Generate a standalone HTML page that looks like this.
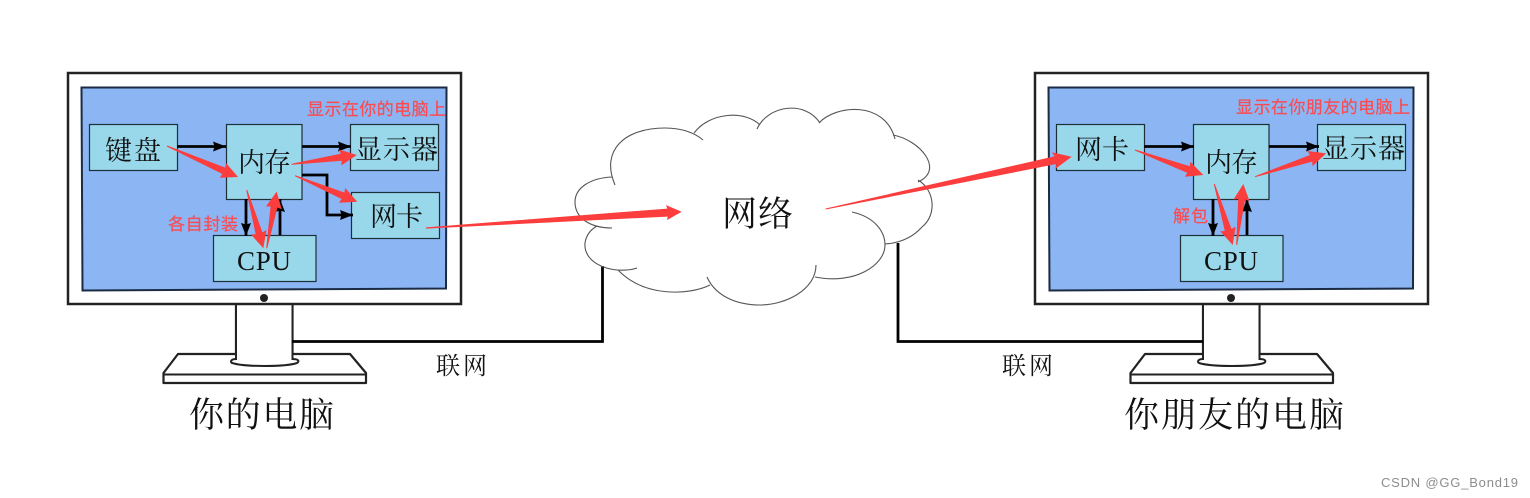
<!DOCTYPE html>
<html><head><meta charset="utf-8"><style>
html,body{margin:0;padding:0;background:#fff}
svg{display:block}
.z{font-family:"Liberation Serif","Noto Serif CJK SC",serif;fill:#111}
.r{font-family:"Liberation Sans","Noto Sans CJK SC",sans-serif;fill:#fb4b52;font-size:17px;stroke:#fb4b52;stroke-width:.2}
.box{fill:#99d8ea;stroke:#1d2f38;stroke-width:1.2}
.blk{fill:none;stroke:#000;stroke-width:2.8}
.c{fill:none;stroke:#555;stroke-width:1.1}
</style></head><body>
<svg width="1530" height="498" viewBox="0 0 1530 498" xmlns="http://www.w3.org/2000/svg">
<defs>
<g id="mon">
<path d="M236,304V360M292.500,304V360" fill="none" stroke="#222" stroke-width="2.2"/>
<path d="M236,354H178L163.500,373V383H366V373L350,354H292.500" fill="#fff" stroke="#222" stroke-width="2.200" stroke-linejoin="round"/>
<path d="M163.500,374.500H366" stroke="#222" stroke-width="2" fill="none"/>
<path d="M236,304V359C231,359 230,362 232,363C245,367 285,367 297,363C300,361 298,359 292.500,359V304Z" fill="#fff" stroke="#222" stroke-width="2"/>
<rect x="68" y="73" width="393" height="231" fill="#fff" stroke="#222" stroke-width="2.500"/>
<path d="M81.500,87.500H446.500L446,288.500L82.500,290.500Z" fill="#8bb6f3" stroke="#1b2b44" stroke-width="2"/>
<circle cx="264" cy="298" r="4" fill="#222"/>
</g>
<marker id="ah" markerUnits="userSpaceOnUse" markerWidth="15" markerHeight="12" refX="13" refY="6" orient="auto">
<path d="M0,1L13,6L0,11L1.500,6Z" fill="#000"/>
</marker>
</defs>

<use href="#mon"/>
<use href="#mon" x="967"/>

<!-- connection lines -->
<path d="M292,341.500H602.500V266" class="blk"/>
<path d="M898,243V341.500H1203" class="blk"/>

<!-- cloud -->
<path d="M615,185C600,150 625,128 665,128C682,128 695,133 703,140
M694,133C710,112 745,110 760,125
M757,129C768,105 805,100 820,123
M819,123C835,105 885,100 895,139
M893,135C920,140 945,170 918,182
M918,180C935,190 937,215 922,227C913,237 900,243 885,244
M852,212C875,217 885,232 885,245C885,265 855,285 815,277
M816,265C816,290 785,305 760,305C735,305 715,295 707,277
M710,285C690,295 645,298 618,270
M637,268C615,275 583,265 585,243C586,236 590,230 597,226
M612,228C590,228 575,218 575,202C575,188 590,178 612,177" class="c"/>
<text class="z" x="722" y="226" font-size="35" textLength="71" lengthAdjust="spacing">网络</text>

<!-- left boxes -->
<rect class="box" x="89.500" y="124.500" width="88" height="46"/>
<rect class="box" x="226.500" y="124.500" width="75.500" height="75"/>
<rect class="box" x="350.500" y="124.500" width="88" height="46"/>
<rect class="box" x="351.500" y="192.500" width="88" height="46"/>
<rect class="box" x="213.500" y="235.500" width="102.500" height="46"/>

<!-- right boxes -->
<rect class="box" x="1056.500" y="124.500" width="88" height="46"/>
<rect class="box" x="1193.500" y="124.500" width="75.500" height="75"/>
<rect class="box" x="1317.500" y="124.500" width="88" height="46"/>
<rect class="box" x="1180.500" y="235.500" width="102.500" height="46"/>

<!-- black arrows -->
<path class="blk" d="M177,146.500H226" marker-end="url(#ah)"/>
<path class="blk" d="M302,146.500H351" marker-end="url(#ah)"/>
<path class="blk" d="M302,175H327V215H353" marker-end="url(#ah)"/>
<path class="blk" d="M246,199V236" marker-end="url(#ah)"/>
<path class="blk" d="M280,235V199" marker-end="url(#ah)"/>
<path class="blk" d="M1144,146.500H1194" marker-end="url(#ah)"/>
<path class="blk" d="M1269,146.500H1319" marker-end="url(#ah)"/>
<path class="blk" d="M1213,199V236" marker-end="url(#ah)"/>
<path class="blk" d="M1247,235V199" marker-end="url(#ah)"/>

<!-- box labels -->
<g class="z" font-size="27">
<text x="105" y="160" textLength="56" lengthAdjust="spacing">键盘</text>
<text x="238" y="172" textLength="53" lengthAdjust="spacing">内存</text>
<text x="355" y="159" textLength="83" lengthAdjust="spacing">显示器</text>
<text x="370" y="226" textLength="53" lengthAdjust="spacing">网卡</text>
<text x="237" y="270" textLength="54" lengthAdjust="spacing">CPU</text>
<text x="1075" y="159" textLength="54" lengthAdjust="spacing">网卡</text>
<text x="1205" y="172" textLength="53" lengthAdjust="spacing">内存</text>
<text x="1322" y="158" textLength="83" lengthAdjust="spacing">显示器</text>
<text x="1204" y="270" textLength="54" lengthAdjust="spacing">CPU</text>
</g>

<!-- bottom labels -->
<text class="z" x="436" y="374" font-size="24" textLength="51" lengthAdjust="spacing">联网</text>
<text class="z" x="1002" y="374" font-size="24" textLength="51" lengthAdjust="spacing">联网</text>
<text class="z" x="189" y="427" font-size="35" textLength="145" lengthAdjust="spacing">你的电脑</text>
<text class="z" x="1124" y="427" font-size="35" textLength="220" lengthAdjust="spacing">你朋友的电脑</text>

<!-- red labels -->
<text class="r" x="307" y="115" textLength="139" lengthAdjust="spacing">显示在你的电脑上</text>
<text class="r" x="1236" y="113" textLength="174" lengthAdjust="spacing">显示在你朋友的电脑上</text>
<text class="r" x="168" y="230" textLength="70" lengthAdjust="spacing">各自封装</text>
<text class="r" x="1173" y="222" textLength="35" lengthAdjust="spacing">解包</text>

<!-- red arrows -->
<g fill="#fb3d3d">
<polygon transform="translate(167,146) rotate(23.6)" points="0,-.5 62,-3.500 61,-8 77.500,0 61,8 62,3.500 0,.5"/>
<polygon transform="translate(291.700,164.300) rotate(-8.1)" points="0,-.5 50,-3.500 49,-8 65.700,0 49,8 50,3.500 0,.5"/>
<polygon transform="translate(295,175.700) rotate(22.700)" points="0,-.5 52,-3.500 51,-8 67.500,0 51,8 52,3.500 0,.5"/>
<polygon transform="translate(246.700,190) rotate(74.1)" points="0,-.5 45,-3.500 44,-8 60.600,0 44,8 45,3.500 0,.5"/>
<polygon transform="translate(266.700,248.300) rotate(-80)" points="0,-.5 42,-3.500 41,-8 57.500,0 41,8 42,3.500 0,.5"/>
<polygon transform="translate(426,228) rotate(-3.65)" points="0,-.6 242,-4 241,-7.500 256.200,0 241,7.500 242,4 0,.6"/>
<polygon transform="translate(825.700,209) rotate(-12)" points="0,-.5 235,-4 233,-8.500 251.500,0 233,8.500 235,4 0,.5"/>
<polygon transform="translate(1135,150) rotate(20.1)" points="0,-.5 57,-3.500 56,-8 72.700,0 56,8 57,3.500 0,.5"/>
<polygon transform="translate(1255,176.700) rotate(-18.2)" points="0,-.5 59,-3.500 58,-8 74.800,0 58,8 59,3.500 0,.5"/>
<polygon transform="translate(1214.300,184) rotate(73.2)" points="0,-.5 48,-3.500 47,-8 63.700,0 47,8 48,3.500 0,.5"/>
<polygon transform="translate(1236.700,245) rotate(-83.8)" points="0,-.5 46,-3.500 45,-8 61.400,0 45,8 46,3.500 0,.5"/>
</g>

<!-- watermark -->
<text x="1381" y="487" font-family="'Liberation Sans',sans-serif" font-size="13" fill="#8d8d8d" textLength="137" lengthAdjust="spacing">CSDN @GG_Bond19</text>
</svg>
</body></html>
